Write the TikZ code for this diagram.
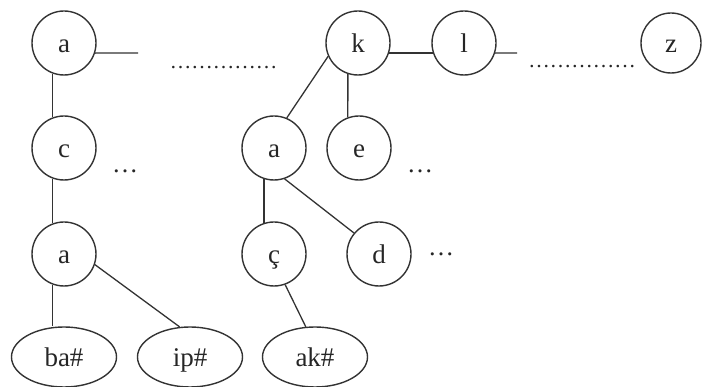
\documentclass[tikz,border=0pt]{standalone}
\usepackage{fontspec}
\setmainfont{Liberation Serif}
\usetikzlibrary{shapes.geometric}
\begin{document}
\begin{tikzpicture}[x=1pt,y=-1pt,
  every node/.style={font=\fontsize{27}{30}\selectfont, text=black!85},
  circ/.style={draw=black!80, line width=1.4pt, circle, inner sep=0pt, minimum size=64pt, text height=22pt, text depth=2pt},
  ell/.style={draw=black!80, line width=1.4pt, ellipse, inner sep=0pt, minimum width=105pt, minimum height=60pt, text height=22pt, text depth=2pt},
  conn/.style={draw=black!80, line width=1.3pt},
  dots/.style={anchor=base, inner sep=0pt, font=\fontsize{26}{30}\selectfont},
  longdots/.style={anchor=base, inner sep=0pt, font=\fontsize{21.5}{24}\selectfont}]
\useasboundingbox (0,0) rectangle (702,387);
% nodes
\node[circ] (a1) at (64,43) {a};
\node[circ] (c) at (64,148) {c};
\node[circ] (a3) at (64,254) {a};
\node[ell] (ba) at (64,357) {ba\#};
\node[ell] (ip) at (190,357) {ip\#};
\node[circ] (k) at (358,43) {k};
\node[circ] (l) at (464,43) {l};
\node[circ, minimum size=60pt] (z) at (671,43) {z};
\node[circ] (a2) at (274,148) {a};
\node[circ] (e) at (359,148) {e};
\node[circ] (cc) at (274,254) {ç};
\node[circ] (d) at (379,254) {d};
\node[ell] (ak) at (315,357) {ak\#};
% free ends
\coordinate (aend) at (138,53);
\coordinate (lend) at (517,53);
% connectors
\draw[conn] (a1.-18) -- (aend);
\draw[conn] (a1.250) -- (c.110);
\draw[conn] (c.250) -- (a3.110);
\draw[conn] (a3.250) -- (a3.250 |- ba.north);
\draw[conn] (a3.-19) -- (ip.109);
\draw[conn] (k.-18) -- (l.198);
\draw[conn] (l.-18) -- (lend);
\draw[conn] (k.204) -- (a2.67);
\draw[conn] (k.252) -- (e.110);
\draw[conn] (a2.252) -- (cc.108);
\draw[conn] (a2.289) -- (d.140);
\draw[conn] (cc.290) -- (ak.107);
% ellipses
\node[longdots] (ld1) at (223.5,69) {……………};
\node[longdots] (ld2) at (582,68) {……………};
\node[dots] (dc) at (125,173) {…};
\node[dots] (de) at (420,173) {…};
\node[dots] (dd) at (441,256) {…};
\end{tikzpicture}
\end{document}
